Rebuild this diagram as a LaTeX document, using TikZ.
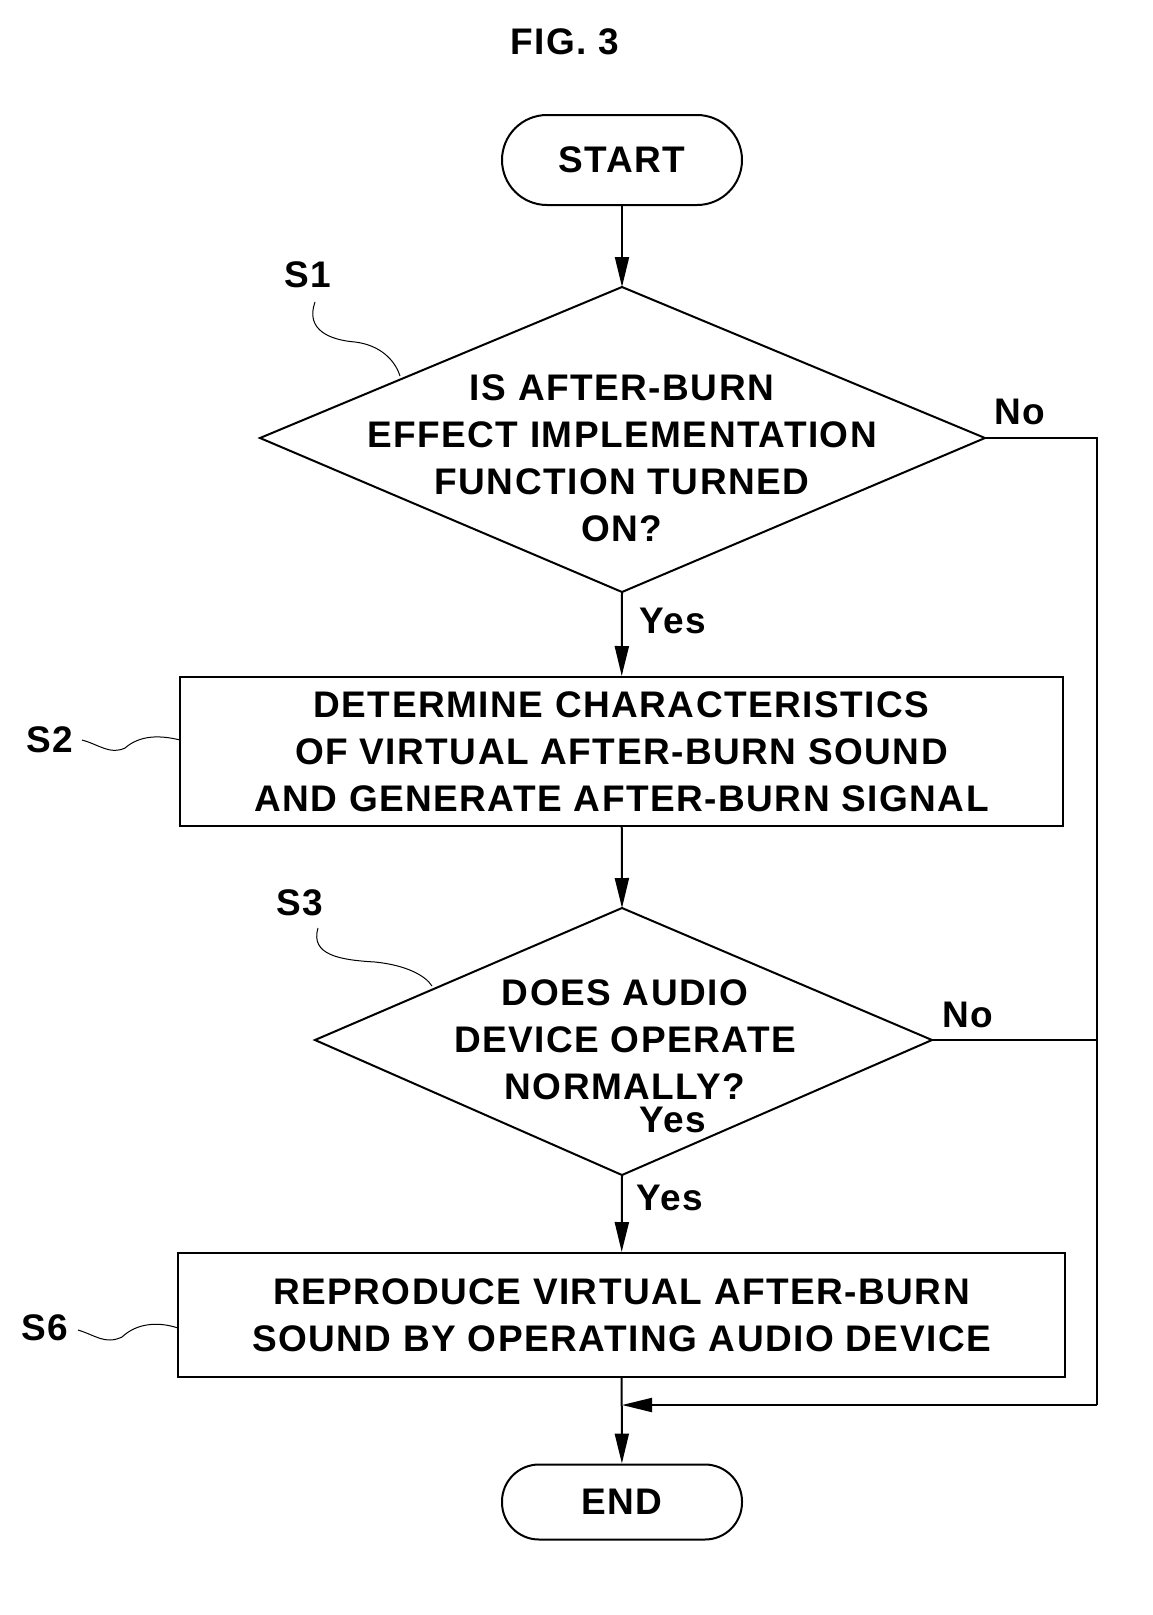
\documentclass[tikz,border=0pt]{standalone}
\usepackage{fontspec}
\setmainfont{Liberation Sans}[LetterSpace=4]
\usetikzlibrary{shapes.geometric,arrows.meta}
\begin{document}
\begin{tikzpicture}[x=1pt,y=-1pt,
  every node/.style={font=\bfseries\fontsize{37}{47}\selectfont, align=center, inner sep=0pt},
  ln/.style={line width=2pt},
  arr/.style={ln,-{Triangle[length=30pt,width=14pt]}},
  lab/.style={font=\bfseries\fontsize{37}{47}\selectfont},
  sq/.style={line width=1pt}]
\useasboundingbox (0,0) rectangle (1152,1615);
\node (title) at (565,42) {FIG. 3};
\node[draw,ln,rounded corners=45pt,minimum width=240pt,minimum height=90pt] (start) at (622,160) {START};
\coordinate (d1t) at (622,287); \coordinate (d1b) at (622,592);
\coordinate (d1l) at (260,438); \coordinate (d1r) at (985,438);
\draw[ln] (d1t) -- (d1r) -- (d1b) -- (d1l) -- cycle;
\node (d1) at (622,458) {IS AFTER-BURN\\EFFECT IMPLEMENTATION\\FUNCTION TURNED\\ON?};
\node[draw,ln,minimum width=883pt,minimum height=149pt] (s2) at (621.5,751.5) {DETERMINE CHARACTERISTICS\\OF VIRTUAL AFTER-BURN SOUND\\AND GENERATE AFTER-BURN SIGNAL};
\coordinate (d3t) at (622,908); \coordinate (d3b) at (622,1175);
\coordinate (d3l) at (315,1040); \coordinate (d3r) at (932,1040);
\draw[ln] (d3t) -- (d3r) -- (d3b) -- (d3l) -- cycle;
\node (d3) at (625,1040) {DOES AUDIO\\DEVICE OPERATE\\NORMALLY?};
\node[draw,ln,minimum width=887pt,minimum height=124pt] (s6) at (621.5,1315) {REPRODUCE VIRTUAL AFTER-BURN\\SOUND BY OPERATING AUDIO DEVICE};
\node[draw,ln,rounded corners=37pt,minimum width=240pt,minimum height=75pt] (end) at (622,1502) {END};
\coordinate (r1) at (1097,438); \coordinate (r2) at (1097,1040);
\coordinate (r3) at (1097,1405); \coordinate (m) at (622,1405);
\draw[arr] (start) -- (d1t);
\draw[arr] (d1b) -- (s2);
\draw[arr] (s2) -- (d3t);
\draw[arr] (d3b) -- (s6);
\draw[arr] (s6) -- (end);
\draw[ln] (d1r) -- (r1) -- (r3);
\draw[ln] (d3r) -- (r2);
\draw[arr] (r3) -- (m);
\node[lab] (no1) at (1020,412) {No};
\node[lab] (no3) at (968,1015) {No};
\node[lab] (y1) at (673,621) {Yes};
\node[lab] (y2) at (673,1120) {Yes};
\node[lab] (y3) at (670,1198) {Yes};
\node[lab] (l1) at (308,275) {S1};
\node[lab] (l2) at (50,740) {S2};
\node[lab] (l3) at (300,903) {S3};
\node[lab] (l6) at (45,1328) {S6};
\draw[sq] (315,302) .. controls (305,330) and (330,340) .. (355,342) .. controls (380,345) and (395,360) .. (400,376);
\draw[sq] (82,740) .. controls (100,745) and (110,755) .. (125,748) .. controls (140,735) and (160,735) .. (180,740);
\draw[sq] (318,928) .. controls (310,955) and (340,960) .. (375,962) .. controls (405,965) and (425,975) .. (432,986);
\draw[sq] (78,1330) .. controls (95,1335) and (105,1345) .. (122,1337) .. controls (138,1322) and (160,1322) .. (178,1328);
\end{tikzpicture}
\end{document}
